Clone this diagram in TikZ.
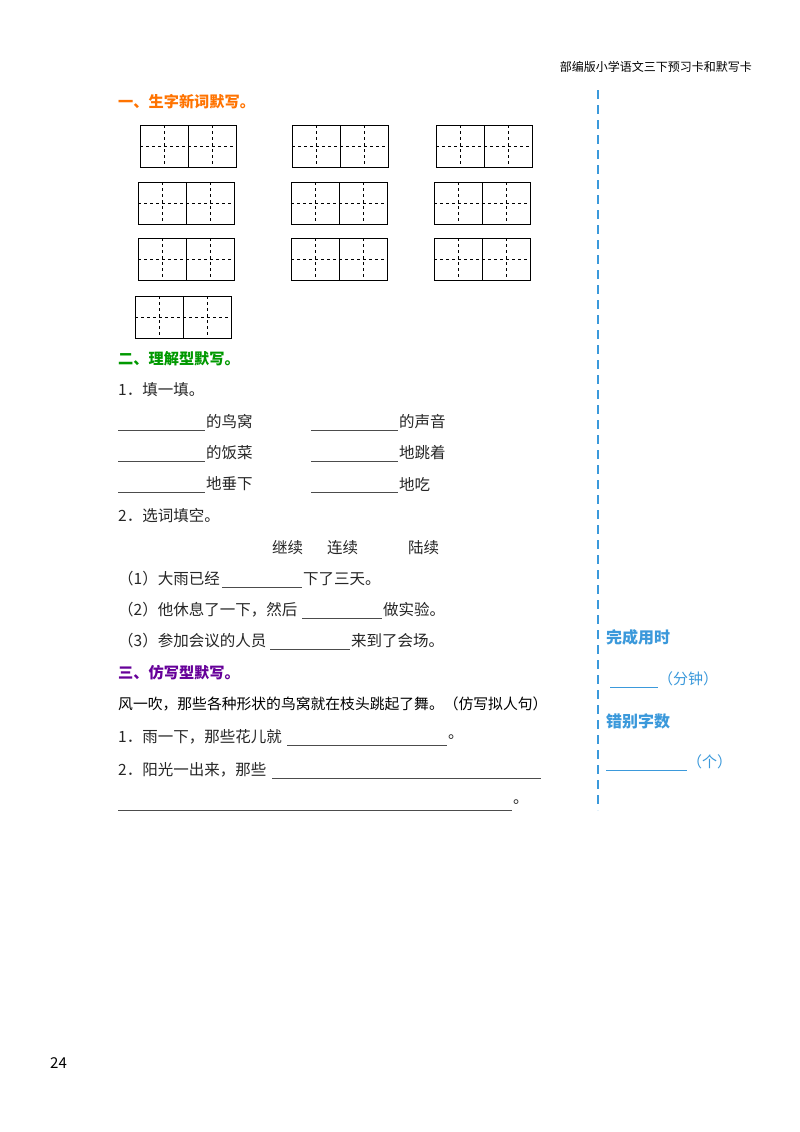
\documentclass[tikz,border=0pt]{standalone}
\usepackage{fontspec}
\newfontfamily\cjk{Noto Sans CJK SC}
\begin{document}
\begin{tikzpicture}[x=1pt,y=-1pt,
  t/.style={anchor=west,inner sep=0,font=\cjk\fontsize{15.5}{15.5}\selectfont,text=black!85},
  h/.style={anchor=west,inner sep=0,font=\cjk\bfseries\fontsize{15.2}{15.2}\selectfont},
  r/.style={anchor=west,inner sep=0,font=\cjk\fontsize{15}{15}\selectfont,text=cyan!70!blue!80},
  ul/.style={line width=0.6pt,black!70},
  ulb/.style={line width=0.6pt,cyan!70!blue!80}]
\useasboundingbox (0,0) rectangle (800,1132);
\fill[white] (0,0) rectangle (800,1132);
\foreach \bx/\by in {140/125,292/125,436/125,138/182,291/182,434/182,138/238,291/238,434/238,135/296}{
 \begin{scope}[shift={(\bx,\by)}]
 \draw[line width=1pt] (0,0) rectangle (96,42);
 \draw[line width=1pt] (48,0) -- (48,42);
 \draw[dashed,line width=0.7pt] (0,21) -- (96,21);
 \draw[dashed,line width=0.7pt] (24,0) -- (24,42) (72,0) -- (72,42);
 \end{scope}}
\node[anchor=east,inner sep=0,font=\cjk\fontsize{12}{12}\selectfont] (hd) at (752,67) {部编版小学语文三下预习卡和默写卡};
\node[h,text=orange!90!red] (s1) at (118,102) {一、生字新词默写。};
\node[h,text=green!60!black] (s2) at (118,359) {二、理解型默写。};
\node[t] (q1) at (118,390) {1．填一填。};
\draw[ul] (118,430) -- (205,430); \node[t] (a1) at (206,422) {的鸟窝};
\draw[ul] (311,430) -- (398,430); \node[t] (a2) at (399,422) {的声音};
\draw[ul] (118,461) -- (205,461); \node[t] (a3) at (206,453) {的饭菜};
\draw[ul] (311,461) -- (398,461); \node[t] (a4) at (399,453) {地跳着};
\draw[ul] (118,492) -- (205,492); \node[t] (a5) at (206,484) {地垂下};
\draw[ul] (311,492) -- (398,492); \node[t] (a6) at (399,484) {地吃};
\node[t] (q2) at (118,516) {2．选词填空。};
\node[t] (w1) at (272,548) {继续};
\node[t] (w2) at (327,548) {连续};
\node[t] (w3) at (408,548) {陆续};
\node[t] (b1) at (118,579) {（1）大雨已经};
\draw[ul] (222,587) -- (302,587); \node[t] (b1e) at (303,579) {下了三天。};
\node[t] (b2) at (118,610) {（2）他休息了一下，然后};
\draw[ul] (302,618) -- (382,618); \node[t] (b2e) at (383,610) {做实验。};
\node[t] (b3) at (118,641) {（3）参加会议的人员};
\draw[ul] (270,649) -- (350,649); \node[t] (b3e) at (351,641) {来到了会场。};
\node[h,text=violet!80!blue] (s3) at (118,673) {三、仿写型默写。};
\node[anchor=west,inner sep=0,font=\cjk\fontsize{14.8}{15}\selectfont] (ex) at (118,704) {风一吹，那些各种形状的鸟窝就在枝头跳起了舞。（仿写拟人句）};
\node[t] (c1) at (118,737) {1．雨一下，那些花儿就};
\draw[ul] (287,745) -- (447,745); \node[t] (c1e) at (448,737) {。};
\node[t] (c2) at (118,770) {2．阳光一出来，那些};
\draw[ul] (272,778) -- (541,778);
\draw[ul] (118,810) -- (512,810); \node[t] (c2e) at (513,802) {。};
\draw[cyan!70!blue!80,line width=2.2pt,dash pattern=on 9pt off 6pt] (598,90) -- (598,810);
\node[h,text=cyan!70!blue!80,font=\cjk\bfseries\fontsize{16}{16}\selectfont] (r1) at (606,637) {完成用时};
\draw[ulb] (610,687) -- (658,687); \node[r] (r1v) at (658,679) {（分钟）};
\node[h,text=cyan!70!blue!80,font=\cjk\bfseries\fontsize{16}{16}\selectfont] (r2) at (606,721) {错别字数};
\draw[ulb] (606,770) -- (687,770); \node[r] (r2v) at (687,762) {（个）};
\node[anchor=west,inner sep=0,font=\cjk\fontsize{15}{15}\selectfont] (pg) at (50,1063) {24};
\end{tikzpicture}
\end{document}
